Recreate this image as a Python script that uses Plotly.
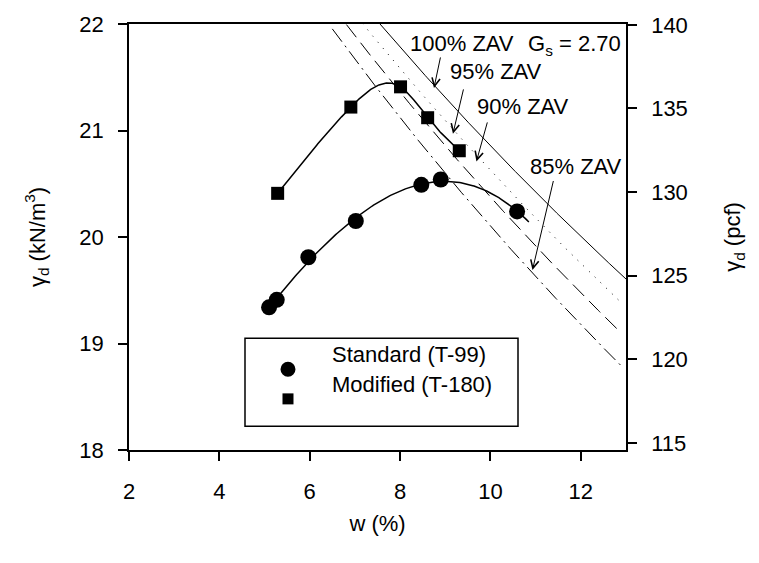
import numpy as np
import plotly.graph_objects as go

# Compaction test results: water content w (%) and dry unit weight (kN/m^3)
std_w = [5.10, 5.27, 5.97, 7.02, 8.47, 8.90, 10.59]
std_gd = [19.34, 19.41, 19.81, 20.15, 20.49, 20.54, 20.24]
mod_w = [5.29, 6.91, 8.01, 8.61, 9.31]
mod_gd = [20.41, 21.22, 21.41, 21.12, 20.81]

# Zero-air-void lines
GS = 2.70
GAMMA_W = 9.81
zav_sat = [1.00, 0.95, 0.90, 0.85]
zav_labels = ["100% ZAV", "95% ZAV", "90% ZAV", "85% ZAV"]
zav_dash = ["solid", "1px,7px", "16px,7px", "16px,5px,2px,5px"]
zav_wmax = [13.0, 12.9, 12.9, 12.9]

KN_TO_PCF = 6.3659
Y_RANGE = [18, 22]
X_RANGE = [2, 13]

FONT = "Arial, Liberation Sans, sans-serif"
FS = 22


def natural_spline(x, y, xs):
    """Natural cubic spline through (x, y), evaluated at xs."""
    x = np.asarray(x, float)
    y = np.asarray(y, float)
    n = len(x)
    h = np.diff(x)
    A = np.zeros((n, n))
    r = np.zeros(n)
    A[0, 0] = A[-1, -1] = 1.0
    for i in range(1, n - 1):
        A[i, i - 1] = h[i - 1]
        A[i, i] = 2 * (h[i - 1] + h[i])
        A[i, i + 1] = h[i]
        r[i] = 3 * ((y[i + 1] - y[i]) / h[i] - (y[i] - y[i - 1]) / h[i - 1])
    c = np.linalg.solve(A, r)
    b = (y[1:] - y[:-1]) / h - h * (2 * c[:-1] + c[1:]) / 3
    d = (c[1:] - c[:-1]) / (3 * h)
    idx = np.clip(np.searchsorted(x, xs) - 1, 0, n - 2)
    t = xs - x[idx]
    return y[idx] + b[idx] * t + c[idx] * t ** 2 + d[idx] * t ** 3


fig = go.Figure()

# ZAV curves
for s, dash, wmax in zip(zav_sat, zav_dash, zav_wmax):
    w = np.linspace(6.5, wmax, 200)
    gd = GS * GAMMA_W / (1 + (w / 100) * GS / s)
    fig.add_trace(go.Scatter(x=w, y=gd, mode="lines",
                             line=dict(color="black", width=1, dash=dash),
                             showlegend=False, hoverinfo="skip"))

# regression curve for the standard test, spline for the modified test
std_fit = np.poly1d(np.polyfit(std_w, std_gd, 3))
ws = np.linspace(min(std_w), 10.85, 200)
fig.add_trace(go.Scatter(x=ws, y=std_fit(ws), mode="lines",
                         line=dict(color="black", width=1.5), showlegend=False))
wm = np.linspace(min(mod_w), max(mod_w), 200)
fig.add_trace(go.Scatter(x=wm, y=natural_spline(mod_w, mod_gd, wm), mode="lines",
                         line=dict(color="black", width=1.5), showlegend=False))

# measured points
fig.add_trace(go.Scatter(x=std_w, y=std_gd, mode="markers", name="Standard (T-99)",
                         marker=dict(symbol="circle", size=16, color="black"),
                         showlegend=False))
fig.add_trace(go.Scatter(x=mod_w, y=mod_gd, mode="markers", name="Modified (T-180)",
                         marker=dict(symbol="square", size=13, color="black"),
                         showlegend=False))

# dummy trace to activate the right-hand axis in pcf
fig.add_trace(go.Scatter(x=[None], y=[None], yaxis="y2", showlegend=False))

# ZAV labels with arrows
label_pos = [(9.37, 21.82), (10.13, 21.55), (10.73, 21.23), (11.89, 20.66)]
arrow_tail = [(8.90, 21.70), (9.41, 21.40), (9.94, 21.09), (11.40, 20.54)]
arrow_tip = [(8.75, 21.40), (9.17, 20.97), (9.69, 20.71), (10.93, 19.69)]
for text, (lx, ly), (tx, ty), (hx, hy) in zip(zav_labels, label_pos, arrow_tail, arrow_tip):
    fig.add_annotation(x=lx, y=ly, text=text, showarrow=False,
                       font=dict(family=FONT, size=FS, color="black"))
    fig.add_annotation(x=hx, y=hy, ax=tx, ay=ty, axref="x", ayref="y", text="",
                       showarrow=True, arrowhead=5, arrowsize=1.6, arrowwidth=1,
                       arrowcolor="black")
fig.add_annotation(x=11.85, y=21.80, text="G<sub>s</sub> = 2.70", showarrow=False,
                   font=dict(family=FONT, size=FS, color="black"))

# legend box
fig.add_shape(type="rect", xref="paper", yref="paper", x0=0.2334, x1=0.7827,
              y0=0.0557, y1=0.2622, line=dict(color="black", width=1.5),
              fillcolor="white", layer="above")
fig.add_shape(type="circle", xref="paper", yref="paper", xsizemode="pixel",
              ysizemode="pixel", xanchor=0.3199, yanchor=0.1896,
              x0=-7.5, x1=7.5, y0=-7.5, y1=7.5, fillcolor="black",
              line=dict(width=0), layer="above")
fig.add_shape(type="rect", xref="paper", yref="paper", xsizemode="pixel",
              ysizemode="pixel", xanchor=0.3199, yanchor=0.12,
              x0=-5.5, x1=5.5, y0=-5.5, y1=5.5, fillcolor="black",
              line=dict(width=0), layer="above")
for text, yy in [("Standard (T-99)", 0.1896), ("Modified (T-180)", 0.12)]:
    fig.add_annotation(xref="paper", yref="paper", x=0.4044, y=yy, text=text,
                       xanchor="left", showarrow=False,
                       font=dict(family=FONT, size=FS, color="black"))

axis_common = dict(showgrid=False, zeroline=False, showline=True, linecolor="black",
                   linewidth=1.5, ticks="outside", ticklen=9, tickwidth=1.5,
                   tickcolor="black", tickfont=dict(family=FONT, size=FS, color="black"))

fig.update_layout(
    width=759, height=563,
    margin=dict(l=129, r=133, t=19, b=113),
    paper_bgcolor="white", plot_bgcolor="white",
    showlegend=False,
    xaxis=dict(range=X_RANGE, dtick=2, tick0=2, mirror=True, ticklabelstandoff=12,
               title=dict(text="w (%)", font=dict(family=FONT, size=FS, color="black"),
                          standoff=12),
               **axis_common),
    yaxis=dict(range=Y_RANGE, dtick=1, ticklabelstandoff=10,
               title=dict(text="γ<sub>d</sub> (kN/m<sup>3</sup>)",
                          font=dict(family=FONT, size=FS, color="black"), standoff=28),
               **axis_common),
    yaxis2=dict(range=[Y_RANGE[0] * KN_TO_PCF, Y_RANGE[1] * KN_TO_PCF], dtick=5, tick0=115,
                overlaying="y", side="right", ticklabelstandoff=10,
                title=dict(text="γ<sub>d</sub> (pcf)",
                           font=dict(family=FONT, size=FS, color="black"), standoff=38),
                **axis_common),
)

fig.write_html("out.html")
